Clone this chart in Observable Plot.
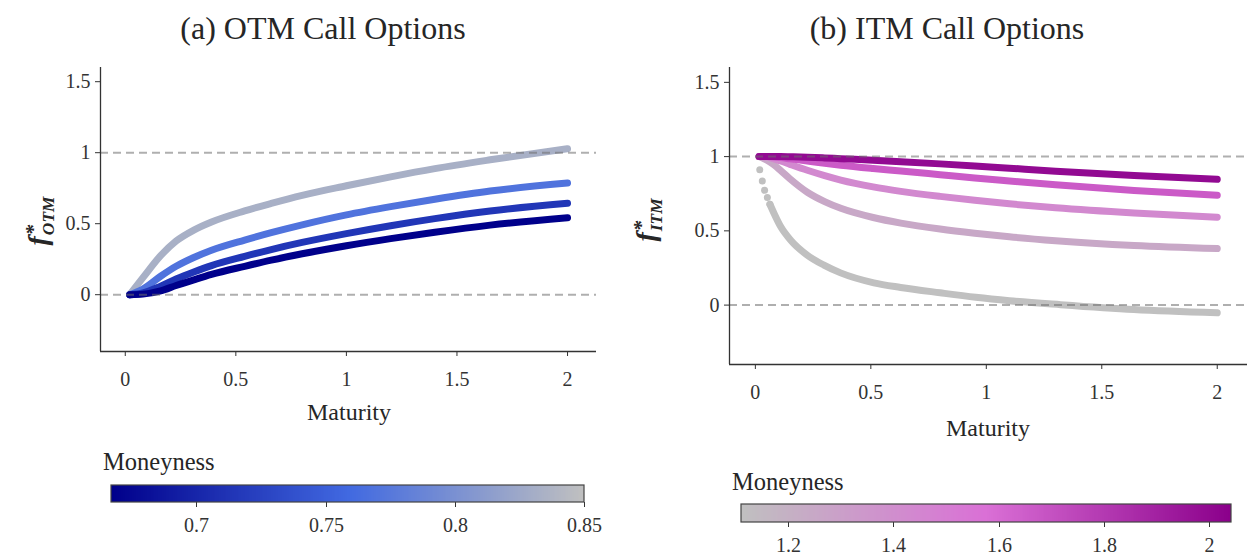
<!DOCTYPE html>
<html>
<head>
<meta charset="utf-8">
<script src="https://cdn.jsdelivr.net/npm/d3@7"></script>
<script src="https://cdn.jsdelivr.net/npm/@observablehq/plot@0.6"></script>
<style>
  body { margin: 0; background: #fff; }
  #root { position: relative; width: 1248px; height: 556px; overflow: hidden;
          font-family: "Liberation Serif", "Times New Roman", serif; color: #262626; }
  .abs { position: absolute; white-space: nowrap; line-height: 1; }
  .title { font-size: 32px; transform: translate(-50%, -50%); }
  .xlab { font-size: 24px; transform: translate(-50%, -50%); }
  .legt { font-size: 24.5px; }
  .ylab { font-size: 28px; font-weight: bold; font-style: italic;
          transform: translate(-50%, -50%) rotate(-90deg); }
  .st { display: inline-flex; flex-direction: column; vertical-align: middle;
        font-size: 0.62em; line-height: 0.85; margin-left: 1px; }
  .st .sup { font-size: 1.2em; line-height: 0.8; }
  svg text { font-family: "Liberation Serif", "Times New Roman", serif; }
</style>
</head>
<body>
<div id="root"></div>
<script>
// ---------------- data ----------------
const xDomain = [-0.112, 2.131];
const yDomain = [-0.4, 1.6];
const xTicks = [0, 0.5, 1, 1.5, 2];
const yTicks = [0, 0.5, 1, 1.5];
const refLines = [0, 1];

// (a) OTM
const otmColors = ["#00008b", "#4169e1", "#c0c0c0"];
const otmColorDomain = [0.667, 0.85];
const otmLegendTicks = [0.7, 0.75, 0.8, 0.85];
const otmMaturity = [0.02, 0.08, 0.16, 0.23, 0.31, 0.39, 0.54, 0.66, 0.8, 1.0, 1.2, 1.4, 1.65, 2.0];
const otmMoneyness = [0.833, 0.769, 0.714, 0.667];
const otm0833 = [0, 0.12, 0.275, 0.378, 0.455, 0.512, 0.59, 0.643, 0.7, 0.767, 0.83, 0.888, 0.95, 1.028];
const otm0769 = [0, 0.04, 0.13, 0.2, 0.262, 0.313, 0.385, 0.437, 0.492, 0.562, 0.62, 0.672, 0.73, 0.786];
const otm0714 = [0, 0.012, 0.06, 0.11, 0.16, 0.205, 0.27, 0.318, 0.368, 0.43, 0.486, 0.536, 0.59, 0.644];
const otm0667 = [0, 0.004, 0.027, 0.065, 0.105, 0.143, 0.2, 0.243, 0.288, 0.345, 0.395, 0.44, 0.49, 0.542];
const otmValues = [otm0833, otm0769, otm0714, otm0667];

// (b) ITM
const itmColors = ["#c0c0c0", "#da70d6", "#8b008b"];
const itmColorDomain = [1.111, 2.041];
const itmLegendTicks = [1.2, 1.4, 1.6, 1.8, 2];
const itmMaturity = [0.016, 0.05, 0.08, 0.11, 0.15, 0.225, 0.3, 0.37, 0.51, 0.63, 0.8, 0.95, 1.1, 1.3, 1.64, 2.0];
const itmMoneyness = [1.25, 1.429, 1.667, 2.0];
const itm1250 = [1.0, 0.975, 0.945, 0.905, 0.85, 0.76, 0.697, 0.652, 0.59, 0.552, 0.512, 0.484, 0.46, 0.434, 0.402, 0.381];
const itm1429 = [1.0, 0.997, 0.985, 0.97, 0.948, 0.908, 0.872, 0.842, 0.796, 0.766, 0.732, 0.706, 0.682, 0.655, 0.62, 0.592];
const itm1667 = [1.0, 1.0, 0.998, 0.993, 0.985, 0.97, 0.955, 0.942, 0.92, 0.903, 0.878, 0.856, 0.836, 0.81, 0.772, 0.74];
const itm2000 = [1.0, 1.0, 1.0, 1.0, 0.999, 0.996, 0.991, 0.986, 0.976, 0.966, 0.951, 0.937, 0.922, 0.902, 0.872, 0.847];
const itmValues = [itm1250, itm1429, itm1667, itm2000];
// lowest moneyness (1.111): separate early dots, then a dense run
const itm1111 = 1.111;
const itm1111DotMaturity = [0.019, 0.03, 0.04, 0.052, 0.063];
const itm1111DotValues = [0.912, 0.836, 0.773, 0.724, 0.679];
const itm1111Maturity = [0.063, 0.081, 0.11, 0.153, 0.225, 0.297, 0.369, 0.513, 0.629, 0.8, 0.954, 1.1, 1.322, 1.639, 2.0];
const itm1111Values = [0.679, 0.617, 0.527, 0.437, 0.336, 0.269, 0.217, 0.15, 0.119, 0.083, 0.053, 0.03, 0.003, -0.03, -0.052];

// ---------------- helpers ----------------
const root = document.getElementById("root");
const fmt = d => String(d);

function addDiv(cls, html, left, top) {
  const d = document.createElement("div");
  d.className = "abs " + cls;
  d.innerHTML = html;
  d.style.left = left + "px";
  d.style.top = top + "px";
  root.appendChild(d);
  return d;
}

function rowsFrom(moneyness, maturity, valuesList) {
  const rows = [];
  moneyness.forEach((m, k) => valuesList[k].forEach((v, i) => rows.push({m, t: maturity[i], v})));
  return rows;
}

function colorScale(domain, colors) {
  return {type: "linear", domain, interpolate: d3.piecewise(d3.interpolateRgb, colors)};
}

function panel({rows, dots, color, left, width, height, marginBottom, plotWidth}) {
  const marks = [
    Plot.line(rows, {x: "t", y: "v", z: "m", stroke: "m", strokeWidth: 7,
      strokeLinecap: "round", strokeLinejoin: "round", curve: "monotone-x"}),
  ];
  if (dots) marks.push(Plot.dot(dots, {x: "t", y: "v", fill: "m", r: 3.5}));
  marks.push(
    Plot.ruleY(refLines, {stroke: "#6e6e6e", strokeOpacity: 0.55, strokeWidth: 2, strokeDasharray: "8,5"}),
    Plot.ruleX([xDomain[0]], {stroke: "#333", strokeWidth: 1.3}),
    Plot.ruleY([yDomain[0]], {stroke: "#333", strokeWidth: 1.3})
  );
  const svg = Plot.plot({
    width, height,
    marginLeft: 100, marginRight: width - 100 - plotWidth,
    marginTop: 67, marginBottom,
    style: {fontFamily: "Liberation Serif, Times New Roman, serif", fontSize: "20px",
            color: "#333", background: "transparent", overflow: "visible"},
    x: {domain: xDomain, ticks: xTicks, tickFormat: fmt, tickSize: 5, tickPadding: 15, label: null},
    y: {domain: yDomain, ticks: yTicks, tickFormat: fmt, tickSize: 5, tickPadding: 5, label: null},
    color,
    marks
  });
  const wrap = document.createElement("div");
  wrap.style.position = "absolute";
  wrap.style.left = left + "px";
  wrap.style.top = "0px";
  wrap.appendChild(svg);
  root.appendChild(wrap);
}

function legend({color, ticks, left, top, rampWidth, rampHeight, mLeft, mRight}) {
  const mTop = 2, tickSize = 5, mBottom = 40;
  const width = mLeft + rampWidth + mRight;
  const height = mTop + rampHeight + mBottom;
  const svg = Plot.legend({
    color: {...color, label: null},
    label: null,
    width, height,
    marginLeft: mLeft, marginRight: mRight, marginTop: mTop, marginBottom: mBottom,
    tickSize, ticks, tickFormat: fmt,
    style: {fontFamily: "Liberation Serif, Times New Roman, serif", fontSize: "20px",
            color: "#333", background: "transparent", overflow: "visible"}
  });
  const s = d3.select(svg);
  s.selectAll(".tick line").attr("y1", 0).attr("y2", tickSize).attr("stroke", "#333");
  s.selectAll(".tick text").attr("y", tickSize + 11);
  s.append("rect").attr("x", mLeft).attr("y", mTop).attr("width", rampWidth).attr("height", rampHeight)
    .attr("fill", "none").attr("stroke", "#444").attr("stroke-width", 1.2);
  const wrap = document.createElement("div");
  wrap.style.position = "absolute";
  wrap.style.left = left + "px";
  wrap.style.top = (top - mTop) + "px";
  wrap.appendChild(svg);
  root.appendChild(wrap);
}

// ---------------- panel (a) ----------------
const otmColor = colorScale(otmColorDomain, otmColors);
panel({rows: rowsFrom(otmMoneyness, otmMaturity, otmValues), color: otmColor,
       left: 0, width: 620, height: 420, marginBottom: 69, plotWidth: 496});
addDiv("title", "(a) OTM Call Options", 323, 28);
addDiv("xlab", "Maturity", 349, 412);
addDiv("ylab", 'f<span class="st"><span class="sup">*</span><span>OTM</span></span>', 40, 221);
addDiv("legt", "Moneyness", 103, 450);
legend({color: otmColor, ticks: otmLegendTicks, left: 100, top: 485,
        rampWidth: 473, rampHeight: 17, mLeft: 11, mRight: 30});

// ---------------- panel (b) ----------------
const itmColor = colorScale(itmColorDomain, itmColors);
const itmRows = [
  ...itm1111Maturity.map((t, i) => ({m: itm1111, t, v: itm1111Values[i]})),
  ...rowsFrom(itmMoneyness, itmMaturity, itmValues)
];
const itmDots = itm1111DotMaturity.map((t, i) => ({m: itm1111, t, v: itm1111DotValues[i]}));
panel({rows: itmRows, dots: itmDots, color: itmColor,
       left: 629, width: 619, height: 440, marginBottom: 76, plotWidth: 518});
addDiv("title", "(b) ITM Call Options", 947, 28);
addDiv("xlab", "Maturity", 988, 428);
addDiv("ylab", 'f<span class="st"><span class="sup">*</span><span>ITM</span></span>', 648, 220);
addDiv("legt", "Moneyness", 732, 470);
legend({color: itmColor, ticks: itmLegendTicks, left: 730, top: 504,
        rampWidth: 490, rampHeight: 18, mLeft: 11, mRight: 17});
</script>
</body>
</html>
